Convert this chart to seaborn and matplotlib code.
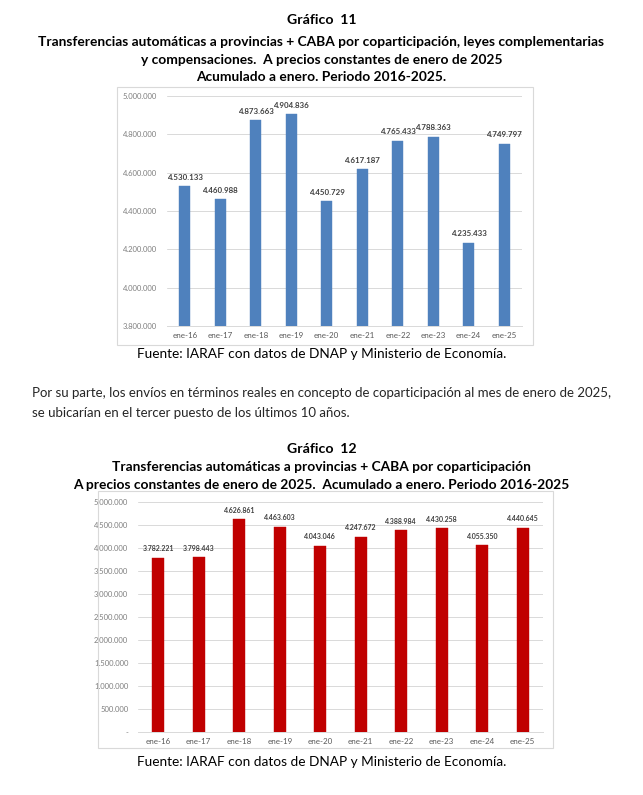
import matplotlib
matplotlib.use('Agg')
import matplotlib.pyplot as plt
import matplotlib.patches as mpatches
import matplotlib.ticker as mticker
import pandas as pd
import seaborn as sns

# Data
meses = ['ene-16', 'ene-17', 'ene-18', 'ene-19', 'ene-20',
         'ene-21', 'ene-22', 'ene-23', 'ene-24', 'ene-25']
total_leyes = [4530133, 4460988, 4873663, 4904836, 4450729,
               4617187, 4765433, 4788363, 4235433, 4749797]
copart = [3782221, 3798443, 4626861, 4463603, 4043046,
          4247672, 4388984, 4430258, 4055350, 4440645]

sns.set_style('white')
plt.rcParams['font.family'] = ['Lato', 'DejaVu Sans']

W, H = 643, 795
fig = plt.figure(figsize=(W / 100, H / 100), dpi=100)


def fx(x):
    return x / W


def fy(y):
    return 1 - y / H


def add_frame(x0, y0, x1, y1):
    fig.patches.append(mpatches.Rectangle((fx(x0), fy(y1)), fx(x1 - x0), (y1 - y0) / H,
                                          transform=fig.transFigure, fill=False,
                                          edgecolor='#D9D9D9', linewidth=0.8))


def fmt_miles(v, pos=None):
    if v == 0:
        return '-'
    return f'{int(round(v)):,}'.replace(',', '.')


def bar_chart(box, values, color, ylim, step, lab_size):
    x0, y0, x1, y1 = box
    ax = fig.add_axes([fx(x0), fy(y1), fx(x1 - x0), (y1 - y0) / H])
    df = pd.DataFrame({'mes': meses, 'valor': values})
    sns.barplot(data=df, x='mes', y='valor', color=color, width=0.3,
                saturation=1, ax=ax, edgecolor=color, linewidth=0.3)
    ax.set_ylim(*ylim)
    ax.set_xlim(-0.5, len(meses) - 0.5)
    ax.yaxis.set_major_locator(mticker.MultipleLocator(step))
    ax.yaxis.set_major_formatter(mticker.FuncFormatter(fmt_miles))
    ax.grid(axis='y', color='#D9D9D9', linewidth=0.7)
    ax.set_axisbelow(True)
    for s in ['top', 'right', 'left']:
        ax.spines[s].set_visible(False)
    ax.spines['bottom'].set_color('#D9D9D9')
    ax.spines['bottom'].set_linewidth(0.7)
    ax.tick_params(axis='y', length=0, labelsize=5.5, labelcolor='#7F7F7F', pad=7)
    ax.tick_params(axis='x', which='major', length=0, labelsize=5.8,
                   labelcolor='#595959', pad=4)
    ax.set_xticks([i - 0.5 for i in range(len(meses) + 1)], minor=True)
    ax.tick_params(axis='x', which='minor', length=3, color='#D9D9D9', width=0.7)
    ax.set_xlabel('')
    ax.set_ylabel('')
    for i, v in enumerate(values):
        ax.annotate(fmt_miles(v), (i, v), xytext=(0, 4), textcoords='offset points',
                    ha='center', va='bottom', fontsize=lab_size, fontweight='bold',
                    color='#404040')
    return ax


def center_text(y, s, size, bold=True):
    fig.text(0.5, fy(y), s, ha='center', va='center', fontsize=size,
             fontweight='bold' if bold else 'normal', color='black')


# Gráfico 11
center_text(20, 'Gráfico  11', 10.2)
center_text(42, 'Transferencias automáticas a provincias + CABA por coparticipación, leyes complementarias', 9.9)
center_text(60, 'y compensaciones.  A precios constantes de enero de 2025', 9.9)
center_text(77, 'Acumulado a enero. Periodo 2016-2025.', 9.9)
add_frame(117, 87, 533, 345)
bar_chart((167, 96, 522, 326), total_leyes, '#4F81BD', (3800000, 5000000), 200000, 5.7)
center_text(354, 'Fuente: IARAF con datos de DNAP y Ministerio de Economía.', 9.8, bold=False)

# Texto intermedio
fig.text(fx(32), fy(393), 'Por su parte, los envíos en términos reales en concepto de coparticipación al mes de enero de 2025,',
         ha='left', va='center', fontsize=9.55)
fig.text(fx(32), fy(413), 'se ubicarían en el tercer puesto de los últimos 10 años.',
         ha='left', va='center', fontsize=9.55)

# Gráfico 12
center_text(449, 'Gráfico  12', 10.2)
center_text(467, 'Transferencias automáticas a provincias + CABA por coparticipación', 9.9)
center_text(485, 'A precios constantes de enero de 2025.  Acumulado a enero. Periodo 2016-2025', 9.9)
add_frame(98, 491, 553, 748)
bar_chart((138, 502, 543, 732), copart, '#C00000', (0, 5000000), 500000, 5.0)
center_text(762, 'Fuente: IARAF con datos de DNAP y Ministerio de Economía.', 9.8, bold=False)

fig.savefig('out.png', dpi=100, facecolor='white')
